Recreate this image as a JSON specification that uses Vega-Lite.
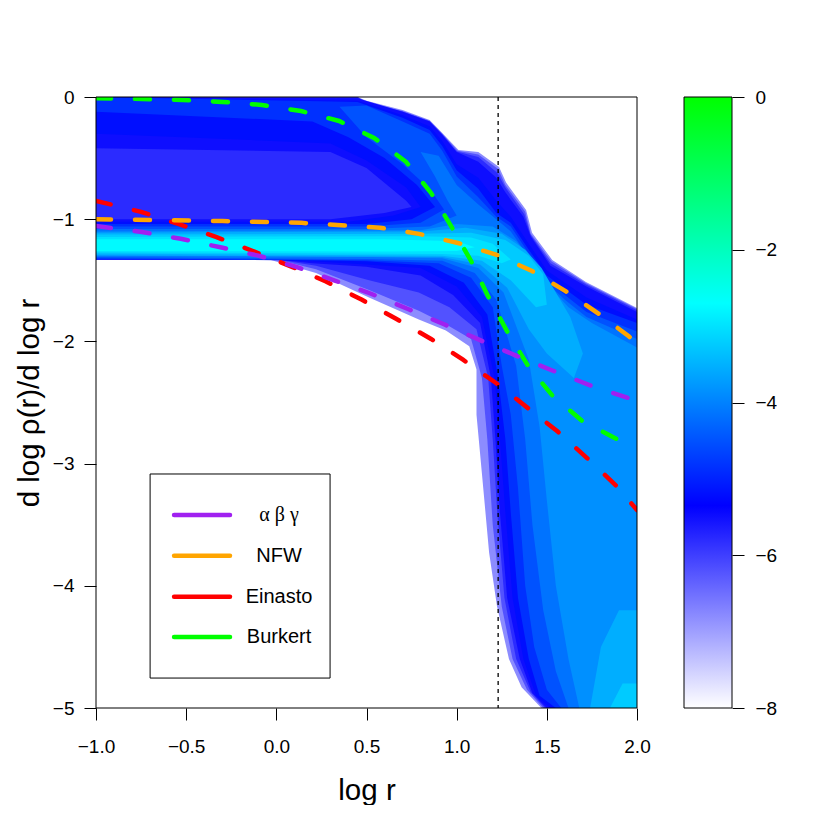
{"$schema":"https://vega.github.io/schema/vega-lite/v6.json","padding":{"left":14,"top":88,"right":0,"bottom":0},"bounds":"flush","spacing":47,"background":"white","config":{"view":{"stroke":null},"font":"Liberation Sans","axis":{"grid":false,"domain":false,"tickColor":"#000","tickSize":12,"labelColor":"#000","titleColor":"#000","labelFont":"Liberation Sans","titleFont":"Liberation Sans","labelFontSize":19,"titleFontSize":29.5,"titleFontWeight":"normal"}},
"datasets":{
"cells":[
{"x":-1,"y":0,"v":-6.8},{"x":0.45,"y":0,"v":-6.8},{"x":0.5,"y":-0.03,"v":-6.8},{"x":0.7,"y":-0.106,"v":-6.8},{"x":0.85,"y":-0.188,"v":-6.8},{"x":0.92,"y":-0.295,"v":-6.8},{"x":1.01,"y":-0.434,"v":-6.8},{"x":1.12,"y":-0.45,"v":-6.8},{"x":1.235,"y":-0.573,"v":-6.8},{"x":1.274,"y":-0.7,"v":-6.8},{"x":1.385,"y":-0.925,"v":-6.8},{"x":1.418,"y":-1.11,"v":-6.8},{"x":1.53,"y":-1.334,"v":-6.8},{"x":1.717,"y":-1.514,"v":-6.8},{"x":2,"y":-1.727,"v":-6.8},{"x":2,"y":-5,"v":-6.8},{"x":1.47,"y":-5,"v":-6.8},{"x":1.36,"y":-4.83,"v":-6.8},{"x":1.29,"y":-4.6,"v":-6.8},{"x":1.224,"y":-4.17,"v":-6.8},{"x":1.18,"y":-3.73,"v":-6.8},{"x":1.14,"y":-3.08,"v":-6.8},{"x":1.11,"y":-2.6,"v":-6.8},{"x":1.11,"y":-2.23,"v":-6.8},{"x":1.07,"y":-2.04,"v":-6.8},{"x":0.94,"y":-1.91,"v":-6.8},{"x":0.79,"y":-1.82,"v":-6.8},{"x":0.514,"y":-1.64,"v":-6.8},{"x":0.22,"y":-1.44,"v":-6.8},{"x":-0.04,"y":-1.33,"v":-6.8},{"x":-1,"y":-1.33,"v":-6.8},
{"x":-1,"y":0,"v":-6.2},{"x":0.45,"y":0,"v":-6.2},{"x":0.5,"y":-0.04,"v":-6.2},{"x":0.7,"y":-0.115,"v":-6.2},{"x":0.85,"y":-0.195,"v":-6.2},{"x":0.92,"y":-0.3,"v":-6.2},{"x":1.005,"y":-0.44,"v":-6.2},{"x":1.12,"y":-0.47,"v":-6.2},{"x":1.23,"y":-0.59,"v":-6.2},{"x":1.27,"y":-0.72,"v":-6.2},{"x":1.38,"y":-0.94,"v":-6.2},{"x":1.41,"y":-1.12,"v":-6.2},{"x":1.525,"y":-1.345,"v":-6.2},{"x":1.717,"y":-1.525,"v":-6.2},{"x":2,"y":-1.735,"v":-6.2},{"x":2,"y":-5,"v":-6.2},{"x":1.48,"y":-5,"v":-6.2},{"x":1.39,"y":-4.85,"v":-6.2},{"x":1.31,"y":-4.6,"v":-6.2},{"x":1.25,"y":-4.17,"v":-6.2},{"x":1.2,"y":-3.5,"v":-6.2},{"x":1.17,"y":-2.8,"v":-6.2},{"x":1.14,"y":-2.3,"v":-6.2},{"x":1.08,"y":-1.98,"v":-6.2},{"x":0.94,"y":-1.86,"v":-6.2},{"x":0.79,"y":-1.75,"v":-6.2},{"x":0.514,"y":-1.58,"v":-6.2},{"x":0.22,"y":-1.41,"v":-6.2},{"x":0,"y":-1.33,"v":-6.2},{"x":-1,"y":-1.33,"v":-6.2},
{"x":-1,"y":0,"v":-5.8},{"x":0.45,"y":0,"v":-5.8},{"x":0.5,"y":-0.05,"v":-5.8},{"x":0.7,"y":-0.12,"v":-5.8},{"x":0.85,"y":-0.2,"v":-5.8},{"x":0.92,"y":-0.305,"v":-5.8},{"x":1,"y":-0.445,"v":-5.8},{"x":1.12,"y":-0.49,"v":-5.8},{"x":1.225,"y":-0.62,"v":-5.8},{"x":1.27,"y":-0.74,"v":-5.8},{"x":1.375,"y":-0.96,"v":-5.8},{"x":1.41,"y":-1.13,"v":-5.8},{"x":1.52,"y":-1.36,"v":-5.8},{"x":1.717,"y":-1.535,"v":-5.8},{"x":2,"y":-1.745,"v":-5.8},{"x":2,"y":-5,"v":-5.8},{"x":1.49,"y":-5,"v":-5.8},{"x":1.41,"y":-4.87,"v":-5.8},{"x":1.33,"y":-4.6,"v":-5.8},{"x":1.265,"y":-4.1,"v":-5.8},{"x":1.225,"y":-3.4,"v":-5.8},{"x":1.2,"y":-2.8,"v":-5.8},{"x":1.175,"y":-2.3,"v":-5.8},{"x":1.11,"y":-1.9,"v":-5.8},{"x":0.96,"y":-1.72,"v":-5.8},{"x":0.79,"y":-1.6,"v":-5.8},{"x":0.514,"y":-1.5,"v":-5.8},{"x":0.22,"y":-1.38,"v":-5.8},{"x":0,"y":-1.33,"v":-5.8},{"x":-1,"y":-1.33,"v":-5.8},
{"x":-1,"y":0,"v":-5.5},{"x":0.45,"y":-0.01,"v":-5.5},{"x":0.7,"y":-0.12,"v":-5.5},{"x":0.85,"y":-0.2,"v":-5.5},{"x":0.92,"y":-0.31,"v":-5.5},{"x":1,"y":-0.45,"v":-5.5},{"x":1.12,"y":-0.53,"v":-5.5},{"x":1.22,"y":-0.66,"v":-5.5},{"x":1.27,"y":-0.78,"v":-5.5},{"x":1.37,"y":-0.98,"v":-5.5},{"x":1.41,"y":-1.14,"v":-5.5},{"x":1.52,"y":-1.38,"v":-5.5},{"x":1.72,"y":-1.55,"v":-5.5},{"x":2,"y":-1.76,"v":-5.5},{"x":2,"y":-5,"v":-5.5},{"x":1.5,"y":-5,"v":-5.5},{"x":1.42,"y":-4.88,"v":-5.5},{"x":1.35,"y":-4.6,"v":-5.5},{"x":1.28,"y":-4.1,"v":-5.5},{"x":1.24,"y":-3.4,"v":-5.5},{"x":1.215,"y":-2.8,"v":-5.5},{"x":1.19,"y":-2.3,"v":-5.5},{"x":1.13,"y":-1.85,"v":-5.5},{"x":0.98,"y":-1.62,"v":-5.5},{"x":0.8,"y":-1.46,"v":-5.5},{"x":0.5,"y":-1.39,"v":-5.5},{"x":0.2,"y":-1.36,"v":-5.5},{"x":0,"y":-1.33,"v":-5.5},{"x":-1,"y":-1.33,"v":-5.5},{"x":-1,"y":-1,"v":-5.5},{"x":0.3,"y":-1,"v":-5.5},{"x":0.6,"y":-0.95,"v":-5.5},{"x":0.75,"y":-0.9,"v":-5.5},{"x":0.72,"y":-0.85,"v":-5.5},{"x":0.5,"y":-0.58,"v":-5.5},{"x":0.3,"y":-0.45,"v":-5.5},{"x":-1,"y":-0.42,"v":-5.5},
{"x":-1,"y":0,"v":-5.2},{"x":0.45,"y":-0.03,"v":-5.2},{"x":0.7,"y":-0.15,"v":-5.2},{"x":0.85,"y":-0.24,"v":-5.2},{"x":0.92,"y":-0.36,"v":-5.2},{"x":1,"y":-0.55,"v":-5.2},{"x":1.12,"y":-0.66,"v":-5.2},{"x":1.22,"y":-0.85,"v":-5.2},{"x":1.3,"y":-0.98,"v":-5.2},{"x":1.4,"y":-1.2,"v":-5.2},{"x":1.5,"y":-1.42,"v":-5.2},{"x":1.6,"y":-1.52,"v":-5.2},{"x":1.72,"y":-1.64,"v":-5.2},{"x":2,"y":-1.82,"v":-5.2},{"x":2,"y":-5,"v":-5.2},{"x":1.52,"y":-5,"v":-5.2},{"x":1.44,"y":-4.9,"v":-5.2},{"x":1.37,"y":-4.6,"v":-5.2},{"x":1.31,"y":-4.1,"v":-5.2},{"x":1.27,"y":-3.4,"v":-5.2},{"x":1.24,"y":-2.8,"v":-5.2},{"x":1.21,"y":-2.3,"v":-5.2},{"x":1.14,"y":-1.8,"v":-5.2},{"x":1,"y":-1.55,"v":-5.2},{"x":0.8,"y":-1.4,"v":-5.2},{"x":0.5,"y":-1.37,"v":-5.2},{"x":0.2,"y":-1.345,"v":-5.2},{"x":0,"y":-1.335,"v":-5.2},{"x":-1,"y":-1.33,"v":-5.2},{"x":-1,"y":-1.02,"v":-5.2},{"x":0.4,"y":-1.02,"v":-5.2},{"x":0.65,"y":-0.97,"v":-5.2},{"x":0.8,"y":-0.9,"v":-5.2},{"x":0.72,"y":-0.74,"v":-5.2},{"x":0.5,"y":-0.52,"v":-5.2},{"x":0.3,"y":-0.38,"v":-5.2},{"x":-1,"y":-0.3,"v":-5.2},
{"x":-1,"y":0,"v":-4.85},{"x":0.45,"y":-0.04,"v":-4.85},{"x":0.7,"y":-0.17,"v":-4.85},{"x":0.85,"y":-0.27,"v":-4.85},{"x":0.92,"y":-0.4,"v":-4.85},{"x":1,"y":-0.6,"v":-4.85},{"x":1.12,"y":-0.75,"v":-4.85},{"x":1.22,"y":-0.95,"v":-4.85},{"x":1.3,"y":-1.03,"v":-4.85},{"x":1.4,"y":-1.25,"v":-4.85},{"x":1.5,"y":-1.46,"v":-4.85},{"x":1.6,"y":-1.57,"v":-4.85},{"x":1.72,"y":-1.7,"v":-4.85},{"x":2,"y":-1.85,"v":-4.85},{"x":2,"y":-5,"v":-4.85},{"x":1.55,"y":-5,"v":-4.85},{"x":1.46,"y":-4.9,"v":-4.85},{"x":1.4,"y":-4.6,"v":-4.85},{"x":1.34,"y":-4.1,"v":-4.85},{"x":1.3,"y":-3.4,"v":-4.85},{"x":1.27,"y":-2.8,"v":-4.85},{"x":1.23,"y":-2.3,"v":-4.85},{"x":1.17,"y":-1.78,"v":-4.85},{"x":1.04,"y":-1.52,"v":-4.85},{"x":0.85,"y":-1.38,"v":-4.85},{"x":0.5,"y":-1.345,"v":-4.85},{"x":0,"y":-1.332,"v":-4.85},{"x":-1,"y":-1.325,"v":-4.85},{"x":-1,"y":-1.04,"v":-4.85},{"x":0.5,"y":-1.04,"v":-4.85},{"x":0.75,"y":-1,"v":-4.85},{"x":0.88,"y":-0.9,"v":-4.85},{"x":0.78,"y":-0.72,"v":-4.85},{"x":0.6,"y":-0.5,"v":-4.85},{"x":0.4,"y":-0.33,"v":-4.85},{"x":0.2,"y":-0.2,"v":-4.85},{"x":-1,"y":-0.12,"v":-4.85},
{"x":0.35,"y":-0.08,"v":-4.5},{"x":0.5,"y":-0.07,"v":-4.5},{"x":0.7,"y":-0.2,"v":-4.5},{"x":0.85,"y":-0.3,"v":-4.5},{"x":0.92,"y":-0.44,"v":-4.5},{"x":1,"y":-0.65,"v":-4.5},{"x":1.12,"y":-0.82,"v":-4.5},{"x":1.22,"y":-0.98,"v":-4.5},{"x":1.3,"y":-1.06,"v":-4.5},{"x":1.4,"y":-1.28,"v":-4.5},{"x":1.5,"y":-1.5,"v":-4.5},{"x":1.6,"y":-1.62,"v":-4.5},{"x":1.72,"y":-1.76,"v":-4.5},{"x":2,"y":-1.92,"v":-4.5},{"x":2,"y":-5,"v":-4.5},{"x":1.58,"y":-5,"v":-4.5},{"x":1.5,"y":-4.85,"v":-4.5},{"x":1.43,"y":-4.5,"v":-4.5},{"x":1.38,"y":-4,"v":-4.5},{"x":1.34,"y":-3.2,"v":-4.5},{"x":1.3,"y":-2.6,"v":-4.5},{"x":1.25,"y":-2.2,"v":-4.5},{"x":1.2,"y":-1.72,"v":-4.5},{"x":1.08,"y":-1.48,"v":-4.5},{"x":0.9,"y":-1.36,"v":-4.5},{"x":0.5,"y":-1.335,"v":-4.5},{"x":-1,"y":-1.32,"v":-4.5},{"x":-1,"y":-1.06,"v":-4.5},{"x":0.5,"y":-1.06,"v":-4.5},{"x":0.8,"y":-1.03,"v":-4.5},{"x":0.93,"y":-0.92,"v":-4.5},{"x":0.85,"y":-0.75,"v":-4.5},{"x":0.7,"y":-0.55,"v":-4.5},{"x":0.5,"y":-0.33,"v":-4.5},
{"x":0.8,"y":-0.45,"v":-4.15},{"x":0.9,"y":-0.48,"v":-4.15},{"x":1,"y":-0.72,"v":-4.15},{"x":1.12,"y":-0.88,"v":-4.15},{"x":1.22,"y":-1,"v":-4.15},{"x":1.3,"y":-1.1,"v":-4.15},{"x":1.4,"y":-1.31,"v":-4.15},{"x":1.5,"y":-1.52,"v":-4.15},{"x":1.6,"y":-1.66,"v":-4.15},{"x":1.72,"y":-1.8,"v":-4.15},{"x":2,"y":-1.98,"v":-4.15},{"x":2,"y":-5,"v":-4.15},{"x":1.62,"y":-5,"v":-4.15},{"x":1.55,"y":-4.7,"v":-4.15},{"x":1.48,"y":-4.2,"v":-4.15},{"x":1.42,"y":-3.5,"v":-4.15},{"x":1.38,"y":-2.8,"v":-4.15},{"x":1.33,"y":-2.2,"v":-4.15},{"x":1.22,"y":-1.66,"v":-4.15},{"x":1.1,"y":-1.44,"v":-4.15},{"x":0.92,"y":-1.34,"v":-4.15},{"x":0.5,"y":-1.325,"v":-4.15},{"x":-1,"y":-1.31,"v":-4.15},{"x":-1,"y":-1.08,"v":-4.15},{"x":0.5,"y":-1.08,"v":-4.15},{"x":0.85,"y":-1.06,"v":-4.15},{"x":1,"y":-0.97,"v":-4.15},{"x":0.95,"y":-0.85,"v":-4.15},{"x":0.88,"y":-0.65,"v":-4.15},
{"x":-1,"y":-1.1,"v":-3.85},{"x":0.8,"y":-1.09,"v":-3.85},{"x":1,"y":-1.04,"v":-3.85},{"x":1.2,"y":-1.06,"v":-3.85},{"x":1.33,"y":-1.18,"v":-3.85},{"x":1.42,"y":-1.34,"v":-3.85},{"x":1.52,"y":-1.56,"v":-3.85},{"x":1.62,"y":-1.72,"v":-3.85},{"x":1.75,"y":-1.85,"v":-3.85},{"x":2,"y":-2.05,"v":-3.85},{"x":2,"y":-5,"v":-3.85},{"x":1.68,"y":-5,"v":-3.85},{"x":1.62,"y":-4.6,"v":-3.85},{"x":1.55,"y":-4,"v":-3.85},{"x":1.5,"y":-3.3,"v":-3.85},{"x":1.46,"y":-2.7,"v":-3.85},{"x":1.4,"y":-2.15,"v":-3.85},{"x":1.26,"y":-1.6,"v":-3.85},{"x":1.12,"y":-1.4,"v":-3.85},{"x":0.92,"y":-1.32,"v":-3.85},{"x":0.5,"y":-1.31,"v":-3.85},{"x":-1,"y":-1.3,"v":-3.85},
{"x":-1,"y":-1.11,"v":-3.55},{"x":0.8,"y":-1.1,"v":-3.55},{"x":1.05,"y":-1.07,"v":-3.55},{"x":1.25,"y":-1.12,"v":-3.55},{"x":1.38,"y":-1.25,"v":-3.55},{"x":1.47,"y":-1.4,"v":-3.55},{"x":1.55,"y":-1.6,"v":-3.55},{"x":1.63,"y":-1.8,"v":-3.55},{"x":1.7,"y":-2.1,"v":-3.55},{"x":1.65,"y":-2.3,"v":-3.55},{"x":1.5,"y":-2.1,"v":-3.55},{"x":1.4,"y":-1.9,"v":-3.55},{"x":1.28,"y":-1.56,"v":-3.55},{"x":1.13,"y":-1.37,"v":-3.55},{"x":0.92,"y":-1.31,"v":-3.55},{"x":-1,"y":-1.295,"v":-3.55},
{"x":2,"y":-4.2,"v":-3.54},{"x":1.9,"y":-4.2,"v":-3.54},{"x":1.8,"y":-4.5,"v":-3.54},{"x":1.74,"y":-5,"v":-3.54},{"x":2,"y":-5,"v":-3.54},
{"x":-1,"y":-1.125,"v":-3.25},{"x":0.8,"y":-1.12,"v":-3.25},{"x":1.08,"y":-1.11,"v":-3.25},{"x":1.27,"y":-1.17,"v":-3.25},{"x":1.4,"y":-1.3,"v":-3.25},{"x":1.48,"y":-1.45,"v":-3.25},{"x":1.5,"y":-1.7,"v":-3.25},{"x":1.44,"y":-1.72,"v":-3.25},{"x":1.3,"y":-1.5,"v":-3.25},{"x":1.14,"y":-1.34,"v":-3.25},{"x":0.92,"y":-1.3,"v":-3.25},{"x":-1,"y":-1.28,"v":-3.25},
{"x":2,"y":-4.8,"v":-3.24},{"x":1.92,"y":-4.8,"v":-3.24},{"x":1.85,"y":-5,"v":-3.24},{"x":2,"y":-5,"v":-3.24},
{"x":-1,"y":-1.145,"v":-3},{"x":0.8,"y":-1.14,"v":-3},{"x":1.08,"y":-1.15,"v":-3},{"x":1.2,"y":-1.2,"v":-3},{"x":1.3,"y":-1.33,"v":-3},{"x":1.25,"y":-1.36,"v":-3},{"x":1.12,"y":-1.3,"v":-3},{"x":0.92,"y":-1.285,"v":-3},{"x":-1,"y":-1.27,"v":-3},
{"x":-1,"y":-1.165,"v":-2.75},{"x":0.6,"y":-1.165,"v":-2.75},{"x":1,"y":-1.18,"v":-2.75},{"x":1.1,"y":-1.23,"v":-2.75},{"x":1,"y":-1.26,"v":-2.75},{"x":0.6,"y":-1.265,"v":-2.75},{"x":-1,"y":-1.26,"v":-2.75}
],
"curves":[
{"m":"Burkert","x":-1,"y":-0.01},{"m":"Burkert","x":-0.745,"y":-0.016},{"m":"Burkert","x":-0.52,"y":-0.025},{"m":"Burkert","x":-0.3,"y":-0.04},{"m":"Burkert","x":-0.08,"y":-0.065},{"m":"Burkert","x":0.137,"y":-0.115},{"m":"Burkert","x":0.348,"y":-0.196},{"m":"Burkert","x":0.542,"y":-0.335},{"m":"Burkert","x":0.719,"y":-0.53},{"m":"Burkert","x":0.858,"y":-0.785},{"m":"Burkert","x":0.969,"y":-1.056},{"m":"Burkert","x":1.08,"y":-1.342},{"m":"Burkert","x":1.174,"y":-1.63},{"m":"Burkert","x":1.279,"y":-1.915},{"m":"Burkert","x":1.396,"y":-2.2},{"m":"Burkert","x":1.529,"y":-2.44},{"m":"Burkert","x":1.695,"y":-2.65},{"m":"Burkert","x":1.889,"y":-2.8},{"m":"Burkert","x":2,"y":-2.855},
{"m":"Einasto","x":-1,"y":-0.85},{"m":"Einasto","x":-0.75,"y":-0.94},{"m":"Einasto","x":-0.54,"y":-1.04},{"m":"Einasto","x":-0.335,"y":-1.145},{"m":"Einasto","x":-0.13,"y":-1.26},{"m":"Einasto","x":0.087,"y":-1.39},{"m":"Einasto","x":0.275,"y":-1.51},{"m":"Einasto","x":0.475,"y":-1.66},{"m":"Einasto","x":0.664,"y":-1.815},{"m":"Einasto","x":0.858,"y":-1.98},{"m":"Einasto","x":1.035,"y":-2.15},{"m":"Einasto","x":1.218,"y":-2.34},{"m":"Einasto","x":1.39,"y":-2.54},{"m":"Einasto","x":1.562,"y":-2.74},{"m":"Einasto","x":1.723,"y":-2.955},{"m":"Einasto","x":1.884,"y":-3.18},{"m":"Einasto","x":2,"y":-3.38},
{"m":"NFW","x":-1,"y":-1},{"m":"NFW","x":-0.3,"y":-1.015},{"m":"NFW","x":0.14,"y":-1.03},{"m":"NFW","x":0.36,"y":-1.05},{"m":"NFW","x":0.575,"y":-1.07},{"m":"NFW","x":0.79,"y":-1.12},{"m":"NFW","x":1.007,"y":-1.195},{"m":"NFW","x":1.218,"y":-1.29},{"m":"NFW","x":1.418,"y":-1.424},{"m":"NFW","x":1.606,"y":-1.59},{"m":"NFW","x":1.784,"y":-1.77},{"m":"NFW","x":1.956,"y":-1.96},{"m":"NFW","x":2,"y":-2.02},
{"m":"abg","x":-1,"y":-1.055},{"m":"abg","x":-0.745,"y":-1.105},{"m":"abg","x":-0.53,"y":-1.16},{"m":"abg","x":-0.31,"y":-1.23},{"m":"abg","x":-0.095,"y":-1.3},{"m":"abg","x":0.11,"y":-1.39},{"m":"abg","x":0.32,"y":-1.5},{"m":"abg","x":0.525,"y":-1.61},{"m":"abg","x":0.73,"y":-1.735},{"m":"abg","x":0.93,"y":-1.86},{"m":"abg","x":1.13,"y":-1.99},{"m":"abg","x":1.335,"y":-2.12},{"m":"abg","x":1.534,"y":-2.24},{"m":"abg","x":1.74,"y":-2.36},{"m":"abg","x":1.945,"y":-2.46},{"m":"abg","x":2,"y":-2.495}
],
"keylines":[
{"m":"abg","x":-0.567,"y":-3.42},{"m":"abg","x":-0.257,"y":-3.42},{"m":"NFW","x":-0.567,"y":-3.754},{"m":"NFW","x":-0.257,"y":-3.754},{"m":"Einasto","x":-0.567,"y":-4.09},{"m":"Einasto","x":-0.257,"y":-4.09},{"m":"Burkert","x":-0.567,"y":-4.42},{"m":"Burkert","x":-0.257,"y":-4.42}
],
"keytext":[
{"t":"NFW","x":0.015,"y":-3.754},{"t":"Einasto","x":0.015,"y":-4.09},{"t":"Burkert","x":0.015,"y":-4.42}
]},
"hconcat":[
{"width":541,"height":611,"layer":[
{"data":{"name":"cells"},"transform":[{"window":[{"op":"row_number","as":"i"}]}],"mark":{"type":"line","clip":true,"strokeWidth":0},"encoding":{
"x":{"field":"x","type":"quantitative","scale":{"domain":[-1,2],"nice":false,"zero":false},"axis":{"values":[-1,-0.5,0,0.5,1,1.5,2],"format":".1f","title":"log r","labelPadding":17,"titlePadding":20,"labelFlush":false}},
"y":{"field":"y","type":"quantitative","scale":{"domain":[-5,0],"nice":false,"zero":false},"axis":{"values":[-5,-4,-3,-2,-1,0],"format":"d","title":"d log ρ(r)/d log r","labelPadding":10,"titlePadding":8,"labelFlush":false}},
"detail":{"field":"v"},
"order":{"field":"i","type":"quantitative"},
"fill":{"field":"v","type":"quantitative","scale":{"domain":[-8,-5.35,-2.7,0],"range":["#ffffff","#0000ff","#00ffff","#00ff00"],"interpolate":"rgb"},"legend":null}}},
{"data":{"name":"curves"},"mark":{"type":"line","clip":true,"strokeWidth":4.5,"strokeCap":"round","strokeDash":[15,24]},"encoding":{
"x":{"field":"x","type":"quantitative"},"y":{"field":"y","type":"quantitative"},
"color":{"field":"m","type":"nominal","sort":null,"scale":{"domain":["abg","NFW","Einasto","Burkert"],"range":["#A020F0","#FFA500","#FF0000","#00FF00"]},"legend":null},"order":{"field":"x"}}},
{"data":{"values":[{"x":1.23}]},"mark":{"type":"rule","color":"#000","strokeWidth":1.3,"strokeDash":[4,4]},"encoding":{"x":{"field":"x","type":"quantitative"}}},
{"data":{"values":[{"x":-0.7,"x2":0.298,"y":-3.085,"y2":-4.755}]},"mark":{"type":"rect","fill":"#fff","stroke":"#000","strokeWidth":1},"encoding":{"x":{"field":"x","type":"quantitative"},"x2":{"field":"x2"},"y":{"field":"y","type":"quantitative"},"y2":{"field":"y2"}}},
{"data":{"name":"keylines"},"mark":{"type":"line","strokeWidth":4.5,"strokeCap":"round"},"encoding":{"x":{"field":"x","type":"quantitative"},"y":{"field":"y","type":"quantitative"},"color":{"field":"m","type":"nominal","scale":{"domain":["abg","NFW","Einasto","Burkert"],"range":["#A020F0","#FFA500","#FF0000","#00FF00"]},"legend":null}}},
{"data":{"name":"keytext"},"mark":{"type":"text","font":"Liberation Sans","fontSize":20,"color":"#000"},"encoding":{"x":{"field":"x","type":"quantitative"},"y":{"field":"y","type":"quantitative"},"text":{"field":"t"}}},
{"data":{"values":[{"t":"α β γ","x":0.015,"y":-3.42}]},"mark":{"type":"text","font":"Liberation Serif","fontSize":20,"color":"#000"},"encoding":{"x":{"field":"x","type":"quantitative"},"y":{"field":"y","type":"quantitative"},"text":{"field":"t"}}},
{"data":{"values":[{"x":-1,"x2":2,"y":0,"y2":-5}]},"mark":{"type":"rect","fill":null,"stroke":"#000","strokeWidth":1},"encoding":{"x":{"field":"x","type":"quantitative"},"x2":{"field":"x2"},"y":{"field":"y","type":"quantitative"},"y2":{"field":"y2"}}}
]},
{"width":48,"height":611,"layer":[
{"data":{"values":[{"y":-8,"y2":0}]},"mark":{"type":"rect","stroke":"#000","strokeWidth":1,"fill":{"gradient":"linear","x1":0,"y1":0,"x2":0,"y2":1,"stops":[{"offset":0,"color":"#00ff00"},{"offset":0.3375,"color":"#00ffff"},{"offset":0.66875,"color":"#0000ff"},{"offset":1,"color":"#ffffff"}]}},"encoding":{
"y":{"field":"y","type":"quantitative","scale":{"domain":[-8,0],"nice":false,"zero":false},"axis":{"orient":"right","values":[-8,-6,-4,-2,0],"format":"d","title":null,"labelPadding":11,"labelFlush":false}},
"y2":{"field":"y2"}}}
]}
]}
